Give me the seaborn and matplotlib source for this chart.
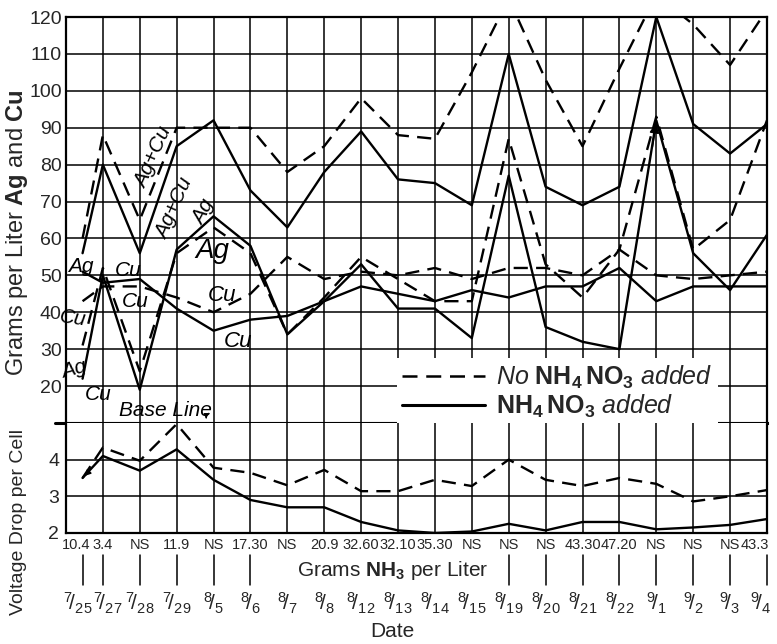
import numpy as np
import pandas as pd
import matplotlib
matplotlib.use('Agg')
import matplotlib.pyplot as plt
import matplotlib.transforms as mtransforms
from matplotlib.lines import Line2D
import seaborn as sns

# ---- values ----
dates = ['7/25', '7/27', '7/28', '7/29', '8/5', '8/6', '8/7', '8/8', '8/12', '8/13',
         '8/14', '8/15', '8/19', '8/20', '8/21', '8/22', '9/1', '9/2', '9/3', '9/4']
nh3 = ['10.4', '3.4', 'NS', '11.9', 'NS', '17.30', 'NS', '20.9', '32.60', '32.10',
       '35.30', 'NS', 'NS', 'NS', '43.30', '47.20', 'NS', 'NS', 'NS', '43.3']

# grams per liter, "No NH4NO3 added" (dashed) and "NH4NO3 added" (solid)
agcu_no = [60, 88, 65, 90, 90, 90, 78, 85, 98, 88, 87, 105, 125, 103, 85, 106, 126, 118, 107, 122]
agcu_nh4 = [56, 80, 56, 85, 92, 73, 63, 78, 89, 76, 75, 69, 110, 74, 69, 74, 120, 91, 83, 91]
ag_no = [31, 52, 24, 56, 63, 56, 34, 44, 55, 49, 43, 43, 87, 53, 44, 57, 93, 57, 65, 92]
ag_nh4 = [22, 50, 19, 57, 66, 58, 34, 43, 53, 41, 41, 33, 77, 36, 32, 30, 92, 56, 46, 61]
cu_no = [43, 47, 47, 44, 40, 45, 55, 49, 51, 50, 52, 49, 52, 52, 50, 57, 50, 49, 50, 51]
cu_nh4 = [51, 48, 49, 41, 35, 38, 39, 43, 47, 45, 43, 46, 44, 47, 47, 52, 43, 47, 47, 47]

# voltage drop per cell
volt_no = [3.5, 4.33, 3.97, 4.97, 3.78, 3.64, 3.3, 3.72, 3.14, 3.14, 3.45, 3.28, 4.0, 3.45,
           3.28, 3.5, 3.34, 2.86, 3.0, 3.17]
volt_nh4 = [3.5, 4.1, 3.7, 4.28, 3.45, 2.9, 2.7, 2.7, 2.3, 2.07, 2.0, 2.04, 2.25, 2.07,
            2.3, 2.3, 2.1, 2.15, 2.22, 2.38]

# x positions: one grid column per date, first date squeezed next to the axis
xpos = np.arange(len(dates), dtype=float)
xpos[0] = 0.45

sns.set_style('white')
plt.rcParams['font.family'] = ['Liberation Sans', 'DejaVu Sans']
plt.rcParams['mathtext.fontset'] = 'custom'
plt.rcParams['mathtext.rm'] = 'Liberation Sans'
plt.rcParams['mathtext.it'] = 'Liberation Sans:italic'
plt.rcParams['mathtext.bf'] = 'Liberation Sans:bold'

fig = plt.figure(figsize=(7.77, 6.44), dpi=100)
ax = fig.add_axes([0.0849, 0.3432, 0.9022, 0.6304])
ax2 = fig.add_axes([0.0849, 0.1724, 0.9022, 0.1708], sharex=ax)

# long tables for seaborn
grams = pd.DataFrame({
    'x': np.tile(xpos, 6),
    'value': agcu_no + agcu_nh4 + ag_no + ag_nh4 + cu_no + cu_nh4,
    'series': np.repeat(['AgCu_no', 'AgCu_nh4', 'Ag_no', 'Ag_nh4', 'Cu_no', 'Cu_nh4'], len(dates)),
    'treat': np.repeat(['no', 'nh4', 'no', 'nh4', 'no', 'nh4'], len(dates)),
})
volts = pd.DataFrame({
    'x': np.tile(xpos, 2),
    'value': volt_no + volt_nh4,
    'series': np.repeat(['V_no', 'V_nh4'], len(dates)),
    'treat': np.repeat(['no', 'nh4'], len(dates)),
})
dash_map = {'no': (6, 3.5), 'nh4': ''}

sns.lineplot(data=grams, x='x', y='value', units='series', style='treat', estimator=None,
             dashes=dash_map, color='black', lw=1.7, legend=False, ax=ax)
sns.lineplot(data=volts, x='x', y='value', units='series', style='treat', estimator=None,
             dashes=dash_map, color='black', lw=1.7, legend=False, ax=ax2)

# ---- axes, grid ----
for a in (ax, ax2):
    a.set_xlim(0, 19)
    a.set_xticks(np.arange(1, 20), minor=True)
    a.grid(which='minor', axis='x', color='black', lw=1.1)
    a.grid(which='major', axis='y', color='black', lw=1.1)
    a.tick_params(which='both', length=0)
    for s in a.spines.values():
        s.set_color('black')
        s.set_linewidth(1.6)
    a.set_xlabel('')

ax.set_ylim(10, 120)
ax.set_yticks(np.arange(20, 121, 10))
ax.tick_params(axis='y', labelsize=14, pad=3)
ax.tick_params(axis='x', labelbottom=False)
ax.set_ylabel(r'Grams per Liter $\mathbf{Ag}$ and $\mathbf{Cu}$', fontsize=17)
ax.yaxis.set_label_coords(-0.052, 0.47)
ax.spines['bottom'].set_linewidth(2.2)
ax.axhline(10, xmin=-0.016, xmax=1, color='black', lw=2.2, clip_on=False)

ax2.set_ylim(2, 5)
ax2.set_yticks([2, 3, 4])
ax2.tick_params(axis='y', labelsize=14, pad=5)
ax2.set_xticks([])
ax2.set_ylabel('Voltage Drop per Cell', fontsize=14)
ax2.yaxis.set_label_coords(-0.056, 0.1)
ax2.spines['top'].set_visible(False)

# ---- text under the axis ----
trans = mtransforms.blended_transform_factory(ax2.transData, ax2.transAxes)
nh3_shift = {0: -6, 19: -12}
date_shift = {0: -5, 1: 5, 19: -6}
for i, (x, d, g) in enumerate(zip(xpos, dates, nh3)):
    if not 6 <= i <= 11:
        ax2.plot([x, x], [-0.2, -0.47], color='black', lw=1.1, transform=trans, clip_on=False)
    t1 = mtransforms.offset_copy(trans, fig=fig, x=nh3_shift.get(i, 0), units='dots')
    ax2.text(x, -0.11, g, transform=t1, ha='center', va='center', fontsize=10.5)
    m, dd = d.split('/')
    t2 = mtransforms.offset_copy(trans, fig=fig, x=date_shift.get(i, 0), units='dots')
    ax2.text(x, -0.64, r'$^{%s}\!/_{%s}$' % (m, dd), transform=t2, ha='center', va='center',
             fontsize=15)
ax2.text(8.85, -0.34, r'Grams $\mathbf{NH_3}$ per Liter', transform=trans, ha='center',
         va='center', fontsize=15)
ax2.text(8.85, -0.9, 'Date', transform=trans, ha='center', va='center', fontsize=15)

# ---- curve labels ----
it = dict(fontstyle='italic', ha='center', va='center', color='black')
ax.text(2.36, 82, 'Ag+Cu', rotation=66, fontsize=15, **it)
ax.text(2.95, 68, 'Ag+Cu', rotation=66, fontsize=15, **it)
ax.text(3.72, 67, 'Ag', rotation=62, fontsize=15, **it)
ax.text(3.98, 56.5, 'Ag', fontsize=20, **it)
ax.text(0.4, 52.5, 'Ag', fontsize=15, **it)
ax.text(1.7, 51.3, 'Cu', fontsize=15, **it)
ax.text(1.88, 43, 'Cu', fontsize=15, **it)
ax.text(0.2, 38.2, 'Cu', rotation=-8, fontsize=15, **it)
ax.text(0.22, 24.6, 'Ag', rotation=15, fontsize=15, **it)
ax.text(0.88, 17.6, 'Cu', fontsize=15, **it)
ax.text(4.23, 44.5, 'Cu', fontsize=16, **it)
ax.text(4.66, 32.2, 'Cu', fontsize=16, **it)
ax.text(2.7, 13.3, 'Base Line', fontsize=15, **it)
ax.annotate('', xy=(3.8, 10.4), xytext=(3.8, 12.2),
            arrowprops=dict(arrowstyle='-|>', color='black', lw=0.8, mutation_scale=7))

# arrow heads at the 9/1 silver peaks
ax.annotate('', xy=(xpos[16], ag_nh4[16]), xytext=(xpos[16] - 0.12, ag_nh4[16] - 8),
            arrowprops=dict(arrowstyle='-|>', color='black', lw=1.2, mutation_scale=14))
ax2.annotate('', xy=(xpos[0], volt_nh4[0]), xytext=(xpos[0] + 0.2, volt_nh4[0] + 0.2),
             arrowprops=dict(arrowstyle='-|>', color='black', lw=1.0, mutation_scale=9))

# ---- legend ----
handles = [Line2D([], [], color='black', lw=1.8, dashes=(6, 3.5)),
           Line2D([], [], color='black', lw=2.2)]
labels = [r'No $\mathbf{NH_4\,NO_3}$ added', r'$\mathbf{NH_4\,NO_3}$ added']
leg = ax.legend(handles, labels, loc='upper left', bbox_to_anchor=(0.455, 0.19),
                handlelength=3.3, handletextpad=0.45, labelspacing=0.1, borderpad=0.2,
                frameon=True, fancybox=False, prop=dict(size=18, style='italic'))
leg.get_frame().set_facecolor('white')
leg.get_frame().set_edgecolor('none')
leg.get_frame().set_alpha(1)

fig.savefig('out.png', dpi=100, facecolor='white')
